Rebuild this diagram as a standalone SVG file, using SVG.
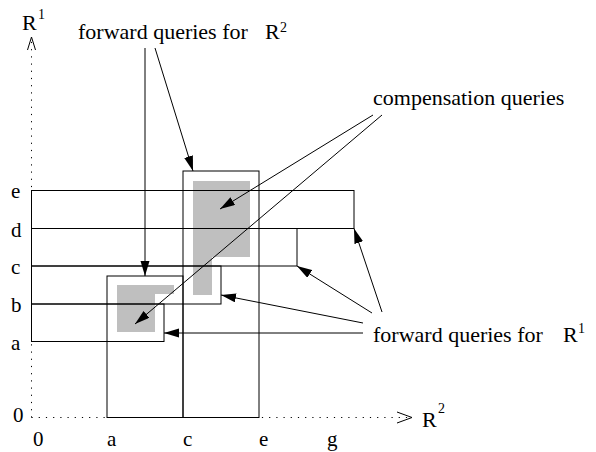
<svg xmlns="http://www.w3.org/2000/svg" width="596" height="452" viewBox="0 0 596 452">
<style>
  text { font-family: "Liberation Serif", "Times New Roman", serif; fill: #000; }
  .lbl { font-size: 22px; }
  .tick { font-size: 21px; }
  .sup { font-size: 14px; }
  .q { fill: none; stroke: #000; stroke-width: 1; }
  .gray { fill: #bfbfbf; stroke: none; }
  .axis { fill: none; stroke: #000; stroke-width: 1; stroke-dasharray: 1.2 6; }
  .head { fill: none; stroke: #000; stroke-width: 1; }
  .conn { fill: none; stroke: #000; stroke-width: 1; marker-end: url(#arr); }
</style>
<defs>
  <marker id="arr" markerUnits="userSpaceOnUse" markerWidth="16" markerHeight="10" refX="15" refY="4.5" orient="auto">
    <path d="M0,0 L15,4.5 L0,9 z" fill="#000"/>
  </marker>
</defs>
<rect width="596" height="452" fill="#fff"/>

<g id="axes">
  <line class="axis" x1="31.5" y1="417.5" x2="31.5" y2="38"/>
  <polyline class="head" points="27.5,50 31.5,37 35.5,50"/>
  <line class="axis" x1="31.5" y1="417.5" x2="410" y2="417.5"/>
  <polyline class="head" points="397,412 412,417.5 397,423"/>
  <text class="lbl" x="22" y="30">R</text>
  <text class="sup" x="38" y="19">1</text>
  <text class="lbl" x="422" y="427">R</text>
  <text class="sup" x="438" y="413">2</text>
</g>

<g id="ticks">
  <text class="tick" x="11" y="198">e</text>
  <text class="tick" x="11" y="236.5">d</text>
  <text class="tick" x="11" y="274">c</text>
  <text class="tick" x="11" y="312">b</text>
  <text class="tick" x="11" y="350">a</text>
  <text class="tick" x="13" y="422">0</text>
  <text class="tick" x="33" y="446">0</text>
  <text class="tick" x="107" y="446">a</text>
  <text class="tick" x="183" y="446">c</text>
  <text class="tick" x="259" y="446">e</text>
  <text class="tick" x="327" y="446">g</text>
</g>

<g id="compensation-regions">
  <polygon class="gray" points="193,181 250,181 250,257 212,257 212,295 193,295"/>
  <polygon class="gray" points="117,285 174,285 174,294 155,294 155,332 117,332"/>
</g>

<g id="r1-query-e">
  <rect class="q" x="31.5" y="190.5" width="322.5" height="38"/>
</g>
<g id="r1-query-d">
  <rect class="q" x="31.5" y="228.5" width="265.5" height="37.5"/>
</g>
<g id="r1-query-c">
  <rect class="q" x="31.5" y="266" width="189.5" height="38"/>
</g>
<g id="r1-query-b">
  <rect class="q" x="31.5" y="304" width="132.5" height="37.5"/>
</g>
<g id="r2-query-a">
  <rect class="q" x="107" y="276" width="76" height="141.5"/>
</g>
<g id="r2-query-c">
  <rect class="q" x="183" y="171" width="76" height="246.5"/>
</g>

<g id="label-forward-r2">
  <text class="lbl" x="78" y="39">forward queries for <tspan x="265">R</tspan><tspan class="sup" x="280" y="32">2</tspan></text>
</g>
<g id="label-compensation">
  <text class="lbl" x="373" y="105">compensation queries</text>
</g>
<g id="label-forward-r1">
  <text class="lbl" x="373" y="342">forward queries for <tspan x="563">R</tspan><tspan class="sup" x="578" y="333">1</tspan></text>
</g>

<g id="connectors">
  <line class="conn" x1="145" y1="48" x2="145" y2="276"/>
  <line class="conn" x1="155" y1="48" x2="193" y2="171"/>
  <line class="conn" x1="373" y1="115" x2="220" y2="209"/>
  <line class="conn" x1="382" y1="115" x2="135" y2="324"/>
  <line class="conn" x1="382" y1="312" x2="354" y2="228.5"/>
  <line class="conn" x1="372" y1="313" x2="297" y2="266"/>
  <line class="conn" x1="363" y1="323" x2="221" y2="295"/>
  <line class="conn" x1="363" y1="333" x2="164" y2="333"/>
</g>
</svg>
